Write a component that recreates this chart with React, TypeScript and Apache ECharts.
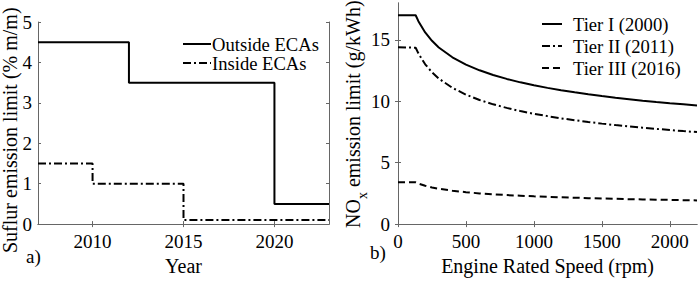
import React, { useEffect, useRef } from "react";
import * as echarts from "echarts";

// ---------- data: panel a) sulfur limits ----------
const outsideYears = [2007, 2012, 2020, 2023];
const outsideECA = [4.5, 3.5, 0.5, 0.5];
const insideYears = [2007, 2010, 2015, 2023];
const insideECA = [1.5, 1.0, 0.1, 0.1];
const yearTicks = [2010, 2015, 2020];
const sulfurTicks = [0, 1, 2, 3, 4, 5];

// ---------- data: panel b) NOx limits ----------
const rpm = [0, 130, 150, 200, 250, 300, 400, 500, 600, 700, 800, 900, 1000, 1100, 1200, 1300, 1400, 1500, 1600, 1700, 1800, 1900, 2000, 2100, 2200];
const tierI = [17, 17, 16.52, 15.6, 14.92, 14.38, 13.58, 12.98, 12.52, 12.14, 11.82, 11.54, 11.3, 11.09, 10.9, 10.73, 10.57, 10.42, 10.29, 10.17, 10.05, 9.94, 9.84, 9.75, 9.66];
const tierII = [14.4, 14.36, 13.9, 13.01, 12.36, 11.85, 11.09, 10.54, 10.1, 9.75, 9.46, 9.2, 8.98, 8.79, 8.61, 8.46, 8.31, 8.18, 8.06, 7.95, 7.85, 7.75, 7.66, 7.57, 7.49];
const tierIII = [3.4, 3.4, 3.3, 3.12, 2.98, 2.88, 2.72, 2.6, 2.5, 2.43, 2.36, 2.31, 2.26, 2.22, 2.18, 2.15, 2.11, 2.08, 2.06, 2.03, 2.01, 1.99, 1.97, 1.95, 1.93];
const rpmTicks = [0, 500, 1000, 1500, 2000];
const noxTicks = [0, 5, 10, 15];

const FAMILY = "Liberation Serif";
const FONT = "'Liberation Serif', serif";
const AXIS_COLOR = "#666";

function measure(text: string, size: number): number {
  const ctx = document.createElement("canvas").getContext("2d");
  if (!ctx) return text.length * size * 0.5;
  ctx.font = `${size}px ${FONT}`;
  return ctx.measureText(text).width;
}

export default function App() {
  const ref = useRef<HTMLDivElement>(null);
  useEffect(() => {
    if (!ref.current) return;
    const chart = echarts.init(ref.current, undefined, { renderer: "svg" });

    const txt = { fontFamily: FAMILY, fontSize: 19, color: "#000" };
    const nameTxt = { fontFamily: FAMILY, fontSize: 20, color: "#000" };
    const axisLine = { show: true, lineStyle: { color: AXIS_COLOR, width: 1 } };
    const tick = (vals: number[]) => ({
      show: true,
      inside: true,
      length: 3,
      lineStyle: { color: AXIS_COLOR, width: 1 },
      customValues: vals,
    });
    const label = (vals: number[], margin: number) => ({
      show: true,
      customValues: vals,
      margin,
      ...txt,
      formatter: (v: number) => String(v),
    });
    const noLabel = { show: false };

    const wNO = measure("NO", 20);
    const wx = measure("x", 14);
    const tstyle = (text: string, size: number) => ({
      text, font: `${size}px ${FONT}`, fill: "#000",
      align: "left", verticalAlign: "middle", textAlign: "left", textVerticalAlign: "middle",
    });
    const hiddenSymbol = { color: "rgba(0,0,0,0)", borderColor: "rgba(0,0,0,0)", borderWidth: 0 };

    const option: any = {
      animation: false,
      backgroundColor: "#fff",
      textStyle: { fontFamily: FAMILY },
      grid: [
        { left: 38, top: 22, width: 291, height: 209 },
        { left: 398, top: 3, width: 299, height: 224 },
      ],
      xAxis: [
        {
          type: "value", gridIndex: 0, position: "bottom", min: 2007, max: 2023,
          axisLine, axisTick: tick(yearTicks), axisLabel: label(yearTicks, 8), splitLine: { show: false },
          name: "Year", nameLocation: "middle", nameGap: 31, nameTextStyle: nameTxt,
        },
        {
          type: "value", gridIndex: 0, position: "top", min: 2007, max: 2023,
          axisLine, axisTick: tick(yearTicks), axisLabel: noLabel, splitLine: { show: false },
        },
        {
          type: "value", gridIndex: 1, position: "bottom", min: 0, max: 2200,
          axisLine, axisTick: tick(rpmTicks), axisLabel: label(rpmTicks, 8), splitLine: { show: false },
          name: "Engine Rated Speed (rpm)", nameLocation: "middle", nameGap: 30, nameTextStyle: nameTxt,
        },
        {
          type: "value", gridIndex: 1, position: "top", min: 0, max: 2200,
          axisLine, axisTick: tick(rpmTicks), axisLabel: noLabel, splitLine: { show: false },
        },
      ],
      yAxis: [
        {
          type: "value", gridIndex: 0, position: "left", min: 0, max: 5,
          axisLine, axisTick: tick(sulfurTicks), axisLabel: label(sulfurTicks, 6), splitLine: { show: false },
        },
        {
          type: "value", gridIndex: 0, position: "right", min: 0, max: 5,
          axisLine, axisTick: tick(sulfurTicks), axisLabel: noLabel, splitLine: { show: false },
        },
        {
          type: "value", gridIndex: 1, position: "left", min: 0, max: 18,
          axisLine, axisTick: tick(noxTicks), axisLabel: label(noxTicks, 8), splitLine: { show: false },
        },
        {
          type: "value", gridIndex: 1, position: "right", min: 0, max: 18,
          axisLine, axisTick: tick(noxTicks), axisLabel: noLabel, splitLine: { show: false },
        },
      ],
      legend: [
        {
          orient: "vertical", left: 182, top: 34.5, padding: 0,
          itemWidth: 28, itemHeight: 10, itemGap: 0, selectedMode: false,
          itemStyle: hiddenSymbol,
          data: ["Outside ECAs", "Inside ECAs"],
          textStyle: { ...txt, fontSize: 18.6, lineHeight: 19, padding: [0, 0, 0, -4] },
        },
        {
          orient: "vertical", left: 541, top: 14.5, padding: 0,
          itemWidth: 20, itemHeight: 10, itemGap: 3, selectedMode: false,
          itemStyle: hiddenSymbol,
          data: ["Tier I (2000)", "Tier II (2011)", "Tier III (2016)"],
          textStyle: { ...txt, fontSize: 18.6, lineHeight: 19, padding: [0, 0, 0, 6] },
        },
      ],
      series: [
        {
          type: "line", name: "Outside ECAs", xAxisIndex: 0, yAxisIndex: 0, step: "end", symbol: "none",
          data: outsideYears.map((y, i) => [y, outsideECA[i]]),
          lineStyle: { color: "#000", width: 2, type: "solid" }, itemStyle: { color: "#000" },
        },
        {
          type: "line", name: "Inside ECAs", xAxisIndex: 0, yAxisIndex: 0, step: "end", symbol: "none",
          data: insideYears.map((y, i) => [y, insideECA[i]]),
          lineStyle: { color: "#000", width: 2, type: [8, 3, 2, 3] }, itemStyle: { color: "#000" },
        },
        {
          type: "line", name: "Tier I (2000)", xAxisIndex: 2, yAxisIndex: 2, symbol: "none",
          data: rpm.map((r, i) => [r, tierI[i]]),
          lineStyle: { color: "#000", width: 2, type: "solid" }, itemStyle: { color: "#000" },
        },
        {
          type: "line", name: "Tier II (2011)", xAxisIndex: 2, yAxisIndex: 2, symbol: "none",
          data: rpm.map((r, i) => [r, tierII[i]]),
          lineStyle: { color: "#000", width: 2, type: [8, 3, 2, 3] }, itemStyle: { color: "#000" },
        },
        {
          type: "line", name: "Tier III (2016)", xAxisIndex: 2, yAxisIndex: 2, symbol: "none",
          data: rpm.map((r, i) => [r, tierIII[i]]),
          lineStyle: { color: "#000", width: 2, type: [7, 4] }, itemStyle: { color: "#000" },
        },
      ],
      graphic: [
        {
          type: "text", x: 10, y: 253, rotation: Math.PI / 2,
          style: tstyle("Suflur emission limit (% m/m)", 20),
        },
        {
          type: "group", x: 353.4, y: 228, rotation: Math.PI / 2,
          children: [
            { type: "text", x: 0, y: 0, style: tstyle("NO", 20) },
            { type: "text", x: wNO, y: 9, style: tstyle("x", 14) },
            { type: "text", x: wNO + wx, y: 0, style: tstyle(" emission limit (g/kWh)", 20) },
          ],
        },
        { type: "text", x: 26, y: 256.4, style: tstyle("a)", 19) },
        { type: "text", x: 370, y: 252.4, style: tstyle("b)", 19) },
      ],
    };

    chart.setOption(option);
    return () => chart.dispose();
  }, []);

  return (
    <div
      ref={ref}
      style={{ position: "fixed", left: 0, top: 0, width: 700, height: 281, background: "#fff" }}
    />
  );
}
